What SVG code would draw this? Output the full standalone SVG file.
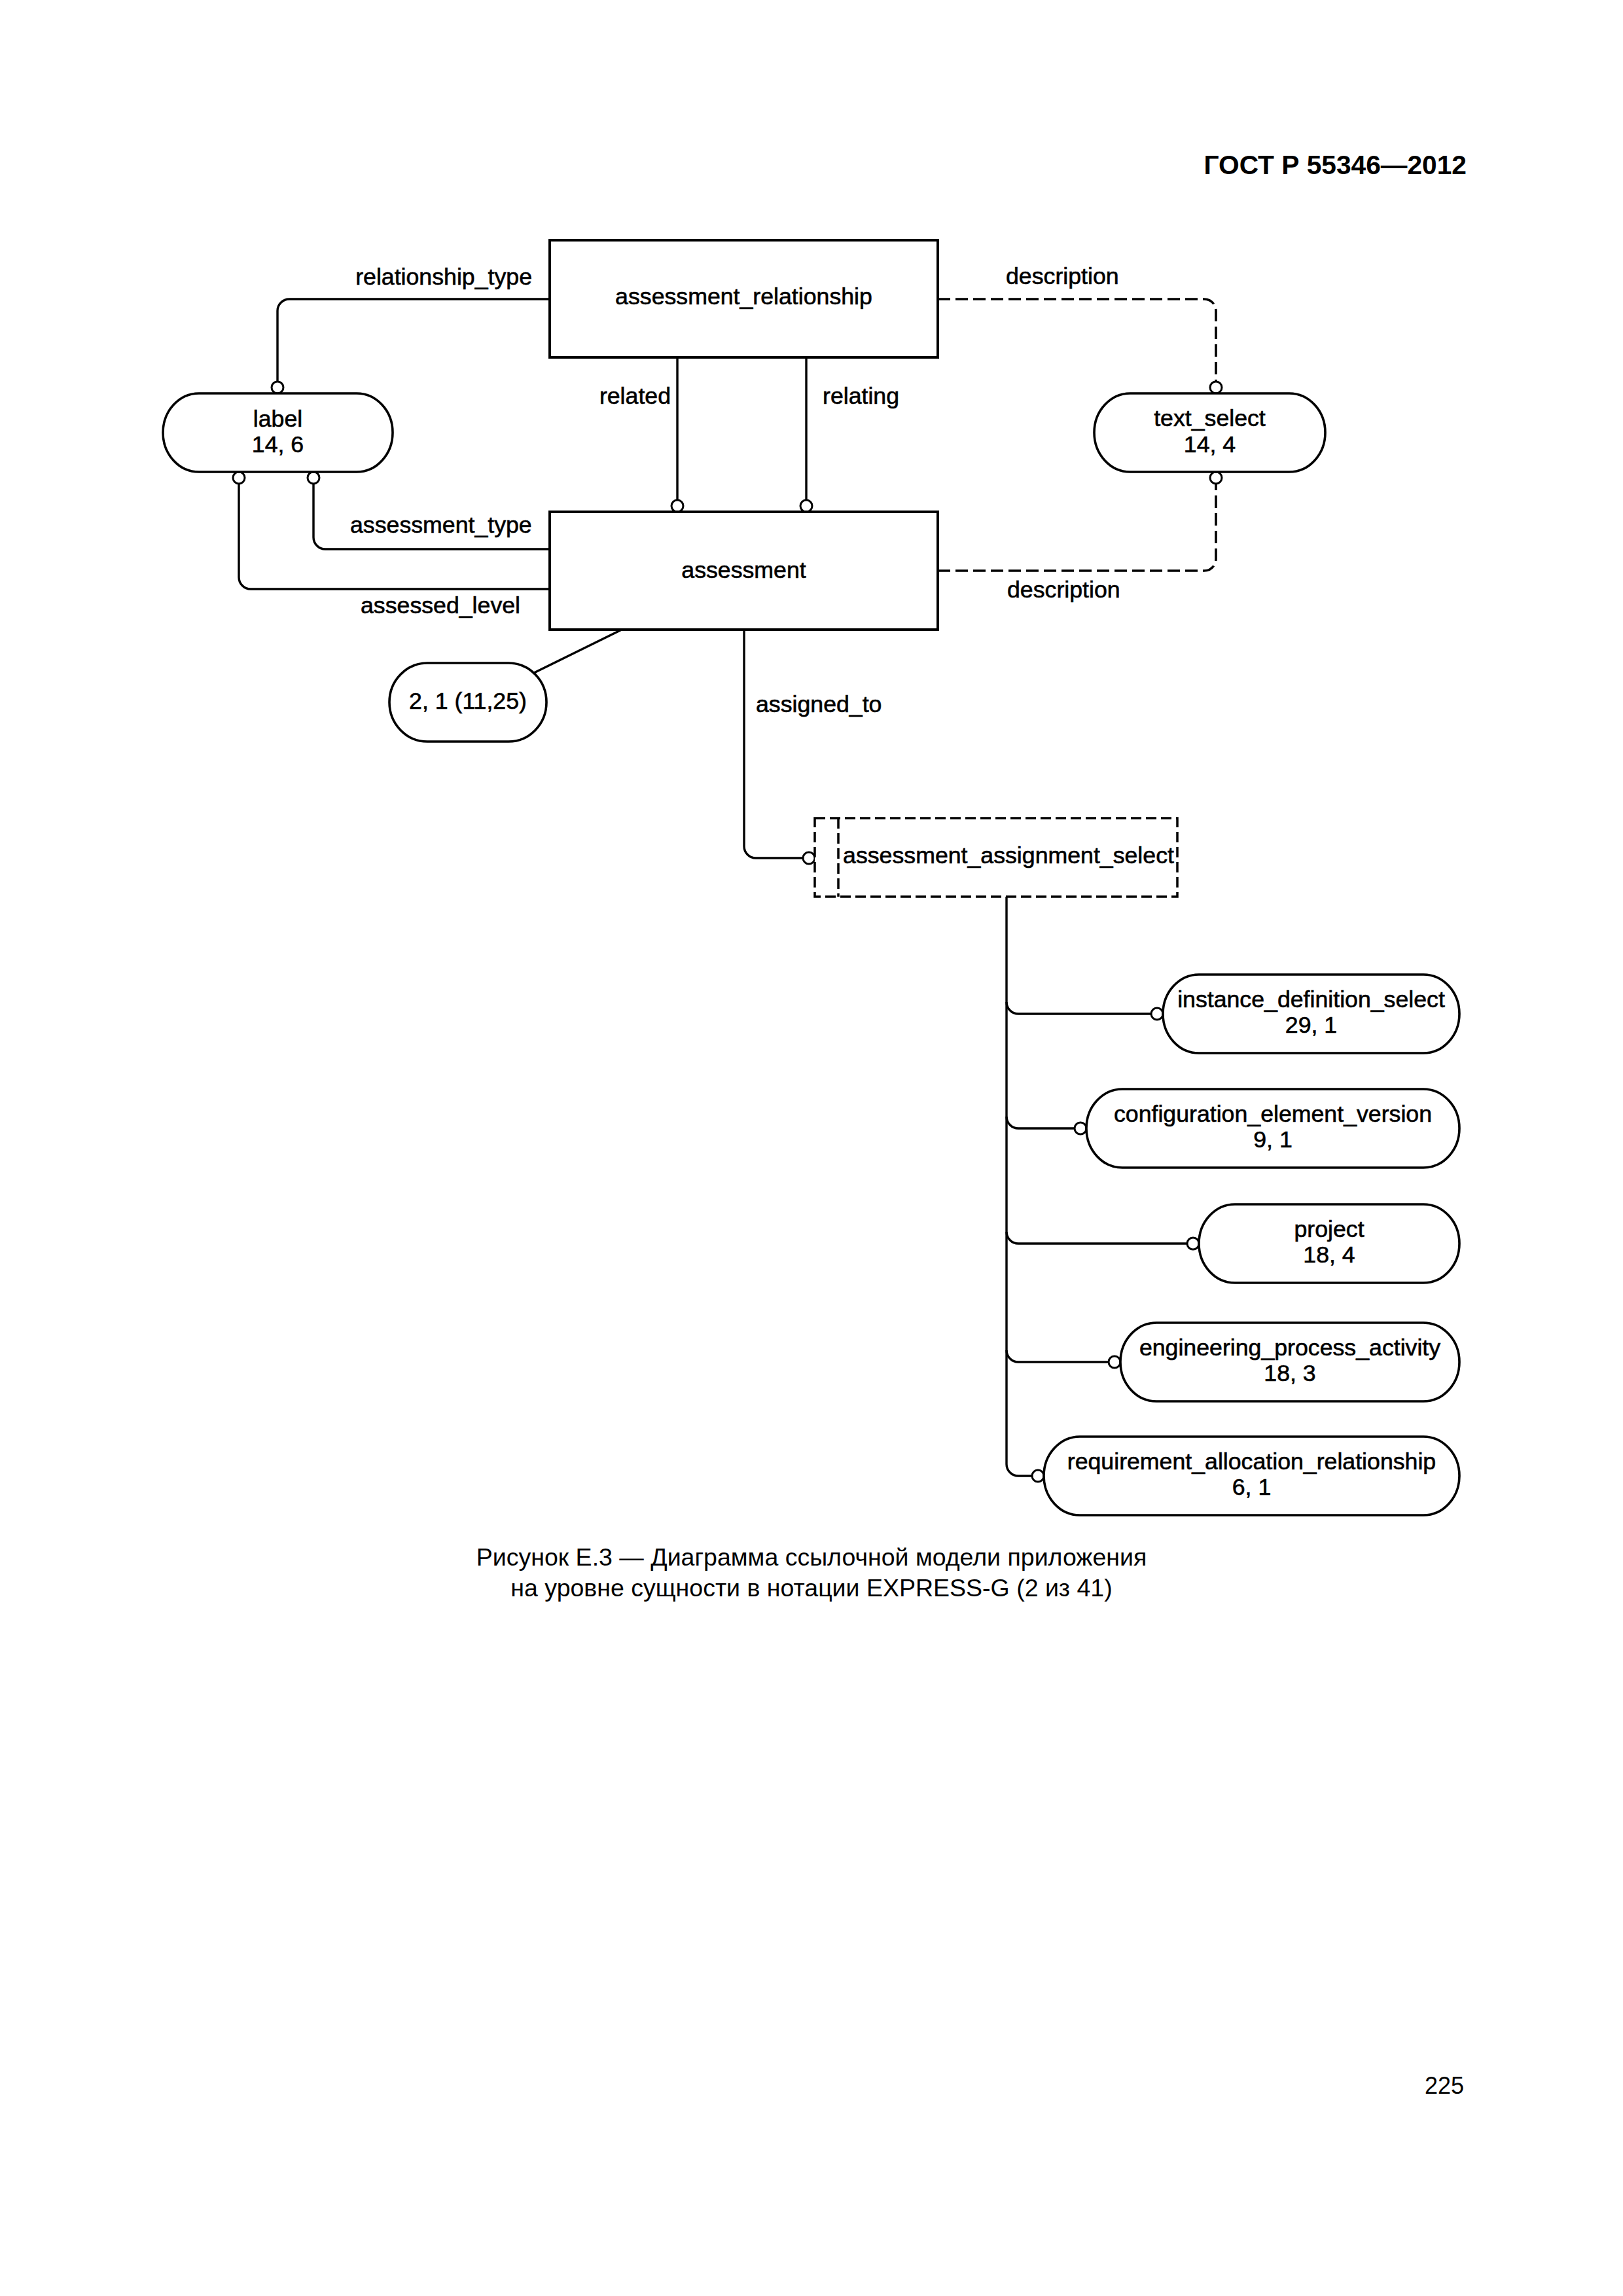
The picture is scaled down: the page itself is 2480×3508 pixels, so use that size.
<svg xmlns="http://www.w3.org/2000/svg" width="2480" height="3508" viewBox="0 0 2480 3508">
<style>
text{font-family:"Liberation Sans",Arial,sans-serif;font-size:35.7px;fill:#000}
.d{stroke:#000;stroke-width:0.6}
.hdr{font-weight:bold;font-size:40.7px}
.cap{font-size:37.5px}
.mid{text-anchor:middle}
.end{text-anchor:end}
.box{fill:#fff;stroke:#000;stroke-width:4}
.node{fill:#fff;stroke:#000;stroke-width:3.6}
.sel{fill:#fff;stroke:#000;stroke-width:3.5;stroke-dasharray:16 7}
.ln{fill:none;stroke:#000;stroke-width:3.4}
.dash{fill:none;stroke:#000;stroke-width:3.6;stroke-dasharray:19 8}
.circ{fill:#fff;stroke:#000;stroke-width:3}
</style>
<rect width="2480" height="3508" fill="#fff"/>
<text class="hdr end" x="2241" y="266">ГОСТ Р 55346—2012</text>

<g id="connectors">
  <path class="ln" d="M840,457 H442 A18,18 0 0 0 424,475 V601"/>
  <path class="ln" d="M1035,546 V782"/>
  <path class="ln" d="M1232,546 V782"/>
  <path class="dash" d="M1433,457 H1840 A18,18 0 0 1 1858,475 V583"/>
  <path class="dash" d="M1433,872 H1840 A18,18 0 0 0 1858,854 V739"/>
  <path class="ln" d="M840,839 H497 A18,18 0 0 1 479,821 V739"/>
  <path class="ln" d="M840,900 H383 A18,18 0 0 1 365,882 V739"/>
  <path class="ln" d="M950,962 L816,1028"/>
  <path class="ln" d="M1137,962 V1293 A18,18 0 0 0 1155,1311 H1227"/>
  <path class="ln" d="M1538,1370 V2237 A18,18 0 0 0 1556,2255 H1577"/>
  <path class="ln" d="M1538,1531 A18,18 0 0 0 1556,1549 H1759"/>
  <path class="ln" d="M1538,1706 A18,18 0 0 0 1556,1724 H1642"/>
  <path class="ln" d="M1538,1882 A18,18 0 0 0 1556,1900 H1814"/>
  <path class="ln" d="M1538,2063 A18,18 0 0 0 1556,2081 H1694"/>
  <circle class="circ" cx="424" cy="592" r="9"/>
  <circle class="circ" cx="1035" cy="773" r="9"/>
  <circle class="circ" cx="1232" cy="773" r="9"/>
  <circle class="circ" cx="1858" cy="592" r="9"/>
  <circle class="circ" cx="1858" cy="730" r="9"/>
  <circle class="circ" cx="479" cy="730" r="9"/>
  <circle class="circ" cx="365" cy="730" r="9"/>
  <circle class="circ" cx="1236" cy="1311" r="9"/>
  <circle class="circ" cx="1768" cy="1549" r="9"/>
  <circle class="circ" cx="1651" cy="1724" r="9"/>
  <circle class="circ" cx="1823" cy="1900" r="9"/>
  <circle class="circ" cx="1703" cy="2081" r="9"/>
  <circle class="circ" cx="1586" cy="2255" r="9"/>
  <text class="d end" x="813" y="435">relationship_type</text>
  <text class="d" x="1537" y="434">description</text>
  <text class="d end" x="1025" y="617">related</text>
  <text class="d" x="1257" y="617">relating</text>
  <text class="d" x="535" y="814">assessment_type</text>
  <text class="d" x="551" y="937">assessed_level</text>
  <text class="d" x="1539" y="913">description</text>
  <text class="d" x="1155" y="1088">assigned_to</text>
</g>

<g id="assessment_relationship">
  <rect class="box" x="840" y="367" width="593" height="179"/>
  <text class="d mid" x="1136.5" y="465">assessment_relationship</text>
</g>
<g id="label">
  <rect class="node" x="249" y="601" width="351" height="120" rx="55" ry="60"/>
  <text class="d mid" x="424.5" y="652">label</text>
  <text class="d mid" x="424.5" y="691">14, 6</text>
</g>
<g id="text_select">
  <rect class="node" x="1672" y="601" width="353" height="120" rx="55" ry="60"/>
  <text class="d mid" x="1848.5" y="651">text_select</text>
  <text class="d mid" x="1848.5" y="691">14, 4</text>
</g>
<g id="assessment">
  <rect class="box" x="840" y="782" width="593" height="180"/>
  <text class="d mid" x="1136.5" y="883">assessment</text>
</g>
<g id="ref_2_1">
  <rect class="node" x="595" y="1013" width="240" height="120" rx="58" ry="60"/>
  <text class="d mid" x="715" y="1083">2, 1 (11,25)</text>
</g>
<g id="assessment_assignment_select">
  <rect class="sel" x="1245" y="1250" width="554" height="120"/>
  <line class="sel" x1="1281" y1="1250" x2="1281" y2="1370"/>
  <text class="d mid" x="1541" y="1319">assessment_assignment_select</text>
</g>
<g id="instance_definition_select">
  <rect class="node" x="1777" y="1489" width="453" height="120" rx="55" ry="60"/>
  <text class="d mid" x="2003.5" y="1539">instance_definition_select</text>
  <text class="d mid" x="2003.5" y="1578">29, 1</text>
</g>
<g id="configuration_element_version">
  <rect class="node" x="1660" y="1664" width="570" height="120" rx="55" ry="60"/>
  <text class="d mid" x="1945" y="1714">configuration_element_version</text>
  <text class="d mid" x="1945" y="1753">9, 1</text>
</g>
<g id="project">
  <rect class="node" x="1832" y="1840" width="398" height="120" rx="55" ry="60"/>
  <text class="d mid" x="2031" y="1890">project</text>
  <text class="d mid" x="2031" y="1929">18, 4</text>
</g>
<g id="engineering_process_activity">
  <rect class="node" x="1712" y="2021" width="518" height="120" rx="55" ry="60"/>
  <text class="d mid" x="1971" y="2071">engineering_process_activity</text>
  <text class="d mid" x="1971" y="2110">18, 3</text>
</g>
<g id="requirement_allocation_relationship">
  <rect class="node" x="1595" y="2195" width="635" height="120" rx="55" ry="60"/>
  <text class="d mid" x="1912.5" y="2245">requirement_allocation_relationship</text>
  <text class="d mid" x="1912.5" y="2284">6, 1</text>
</g>

<text class="cap mid" x="1240" y="2392">Рисунок Е.3 — Диаграмма ссылочной модели приложения</text>
<text class="cap mid" x="1240" y="2439">на уровне сущности в нотации EXPRESS-G (2 из 41)</text>
<text class="end" x="2237" y="3199" style="font-size:36px">225</text>
</svg>
